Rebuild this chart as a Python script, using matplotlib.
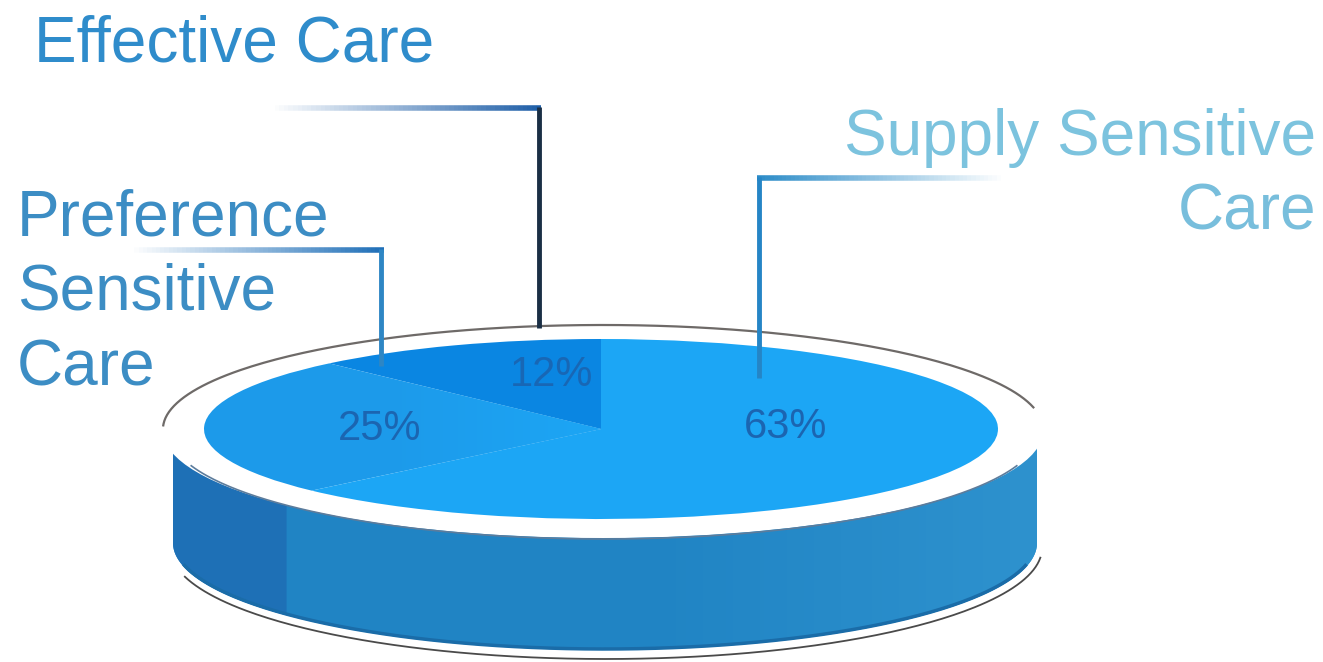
import numpy as np
import matplotlib
matplotlib.use("Agg")
import matplotlib.pyplot as plt
from matplotlib.collections import LineCollection
from matplotlib.colors import to_rgba
from matplotlib.patches import Ellipse, Polygon

categories = ["Effective Care", "Preference\nSensitive\nCare", "Supply Sensitive\nCare"]
shares = [12, 25, 63]
share_labels = ["12%", "25%", "63%"]
top_colors = ["#0A86E2", "#1C9AEA", "#1CA6F5"]

W, H = 1323, 662
plt.rcParams["font.family"] = ["Liberation Sans", "DejaVu Sans"]
fig = plt.figure(figsize=(W / 100, H / 100), dpi=100, facecolor="white")
bg = fig.add_axes([0, 0, 1, 1])
bg.set_xlim(0, W)
bg.set_ylim(H, 0)
bg.axis("off")


def ell(cx, cy, rx, ry, a0, a1, n=200):
    t = np.radians(np.linspace(a0, a1, n))
    return cx + rx * np.cos(t), cy - ry * np.sin(t)


# cylinder wall
xb, yb = ell(605, 543, 432, 107, 180, 360)
xt, yt = ell(605, 430, 432, 105, 360, 180)
wall = Polygon(np.c_[np.r_[xb, xt], np.r_[yb, yt]], fc="#2084C4", ec="none", zorder=1)
bg.add_patch(wall)
# wall lightens gradually towards the right
shade = np.zeros((2, 256, 4))
shade[..., :3] = to_rgba("#2E92CE")[:3]
shade[..., 3] = np.clip((np.linspace(0, 1, 256) - 0.55) / 0.45, 0, 1)[None, :]
im_w = bg.imshow(shade, extent=(173, 1037, 660, 440), aspect="auto", zorder=1.5)
im_w.set_clip_path(wall)
bg.set_xlim(0, W)
bg.set_ylim(H, 0)
# darker part of the wall
mask = xb < 288
mt = xt < 288
bg.add_patch(Polygon(np.c_[np.r_[xb[mask], xt[mt]], np.r_[yb[mask], yt[mt]]], fc="#1E70B6", ec="none", zorder=2))
# darker lip along lower wall
xl, yl = ell(605, 542, 431, 107, 192, 348)
bg.plot(xl, yl, color="#1A6CA8", lw=2.5, zorder=3, solid_capstyle="butt")
# thin rim under the wall
xo, yo = ell(606, 548, 436, 111, 195, 355)
bg.plot(xo, yo, color="#4A4A4A", lw=1.3, zorder=3)
# white rim and outline
bg.add_patch(Ellipse((603, 431), 880, 214, fc="white", ec="none", zorder=4))
xr, yr = ell(603, 429, 440, 104, 12, 178)
bg.plot(xr, yr, color="#6E6A68", lw=1.6, zorder=5)
xr, yr = ell(604, 433, 434, 106, 198, 342)
bg.plot(xr, yr, color="#5C7C9C", lw=1.2, zorder=5)

# pie top, drawn through the library's pie in an axes spanning its ellipse
cx, cy, rx, ry = 601, 429, 397, 90
pa = fig.add_axes([(cx - rx) / W, 1 - (cy + ry) / H, 2 * rx / W, 2 * ry / H], zorder=2)
wedges, _ = pa.pie(shares, colors=top_colors, startangle=90, counterclock=True, radius=1,
                   wedgeprops={"linewidth": 0})
# the 25% slice melts into the 63% colour towards the centre
grad = np.zeros((2, 256, 4))
grad[..., :3] = to_rgba(top_colors[2])[:3]
grad[..., 3] = np.clip((np.linspace(-1, 1, 256) + 0.55) / 0.5, 0, 1)[None, :] * 0.9
im = pa.imshow(grad, extent=(-1, 1, -1, 1), aspect="auto", zorder=3)
im.set_clip_path(wedges[1])
pa.set_aspect("auto")
pa.set_xlim(-1, 1)
pa.set_ylim(-1, 1)
pa.axis("off")

# overlay for text and leader lines
ov = fig.add_axes([0, 0, 1, 1], zorder=3)
ov.set_xlim(0, W)
ov.set_ylim(H, 0)
ov.axis("off")

for lab, (x, y) in zip(share_labels, [(552, 386), (380, 440), (786, 438)]):
    ov.text(x, y, lab, fontsize=30, color="#1B62AE", ha="center", va="baseline",
            alpha=0.85 if lab == "12%" else 0.95)

ov.text(34, 61, categories[0], fontsize=46, color="#2F8CCB", ha="left", va="baseline")
ov.text(1316, 155, "Supply Sensitive", fontsize=46, color="#7CC3DE", ha="right", va="baseline")
ov.text(1316, 230, "Care", fontsize=46, color="#78BEDC", ha="right", va="baseline")
for s, y in zip(categories[1].split("\n"), [235, 310, 385]):
    ov.text(17, y, s, fontsize=46, color="#3C8DC4", ha="left", va="baseline")


def fade(x0, x1, y, color, lw=4):
    xs = np.linspace(x0, x1, 60)
    segs = [[(xs[i], y), (xs[i + 1], y)] for i in range(59)]
    rgba = to_rgba(color)
    cols = [(*rgba[:3], i / 58) for i in range(59)]
    ov.add_collection(LineCollection(segs, colors=cols, linewidths=lw, capstyle="butt"))


# Effective Care leader
fade(270, 541, 108, "#1F5FA8")
ov.plot([539, 539], [107, 328], color="#1A2F45", lw=3.5, solid_capstyle="butt")
# Preference leader
fade(130, 384, 250, "#1F6FB8")
ov.plot([381, 381], [249, 366], color="#2E86C4", lw=3.5, solid_capstyle="butt")
# Supply leader
fade(1005, 757, 178, "#2C8CC8")
ov.plot([759, 759], [177, 378], color="#2585C6", lw=3.5, solid_capstyle="butt")

fig.savefig("out.png", dpi=100, facecolor="white")
